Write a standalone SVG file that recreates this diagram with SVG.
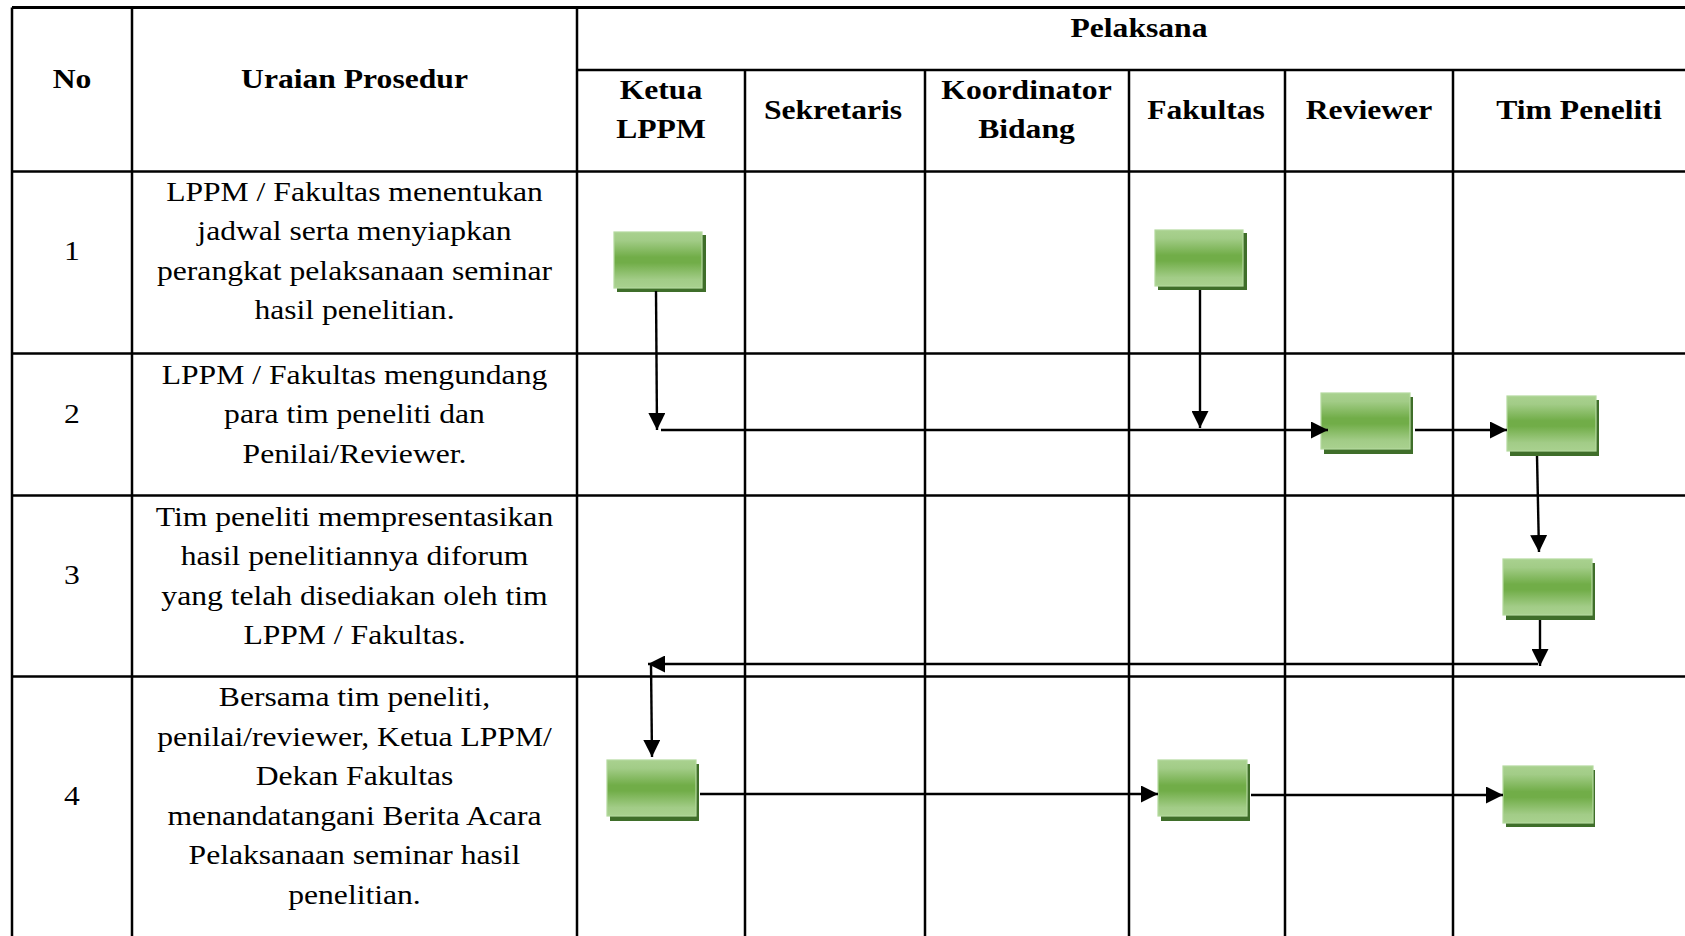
<svg xmlns="http://www.w3.org/2000/svg" width="1685" height="936" viewBox="0 0 1685 936">
<style>
.grid{stroke:#000;stroke-width:2.5;fill:none}
.outer{stroke:#000;stroke-width:3;fill:none}
.txt{font-family:'Liberation Serif','Times New Roman',serif;font-size:27.5px;fill:#000;text-anchor:middle}
.hd{font-weight:bold}
.shadow{fill:#3f6e2a}
.box{fill:url(#grn);stroke:#b4d99e;stroke-width:1.2}
.conn{stroke:#000;stroke-width:2.4;fill:none;marker-end:url(#ah)}
</style>
<defs>
<linearGradient id="grn" x1="0" y1="0" x2="0" y2="1">
<stop offset="0" stop-color="#a9d18f"/>
<stop offset="0.15" stop-color="#a2cc87"/>
<stop offset="0.45" stop-color="#71ad48"/>
<stop offset="0.55" stop-color="#71ad48"/>
<stop offset="0.85" stop-color="#a2cc87"/>
<stop offset="1" stop-color="#a9d18f"/>
</linearGradient>
<marker id="ah" viewBox="0 0 10 10" refX="10" refY="5" markerWidth="17" markerHeight="17" markerUnits="userSpaceOnUse" orient="auto">
<path d="M0,0 L10,5 L0,10 z" fill="#000"/>
</marker>
</defs>
<rect x="0" y="0" width="1685" height="936" fill="#fff"/>
<g id="table">
<path class="outer" d="M12,7.5 H1685"/>
<path class="grid" d="M12,7.5 V936 M132,7.5 V936 M577,7.5 V936"/>
<path class="grid" d="M745,70 V936 M925,70 V936 M1129,70 V936 M1285,70 V936 M1453,70 V936"/>
<path class="grid" d="M577,70 H1685 M12,171.5 H1685 M12,353.5 H1685 M12,495.5 H1685 M12,676.5 H1685"/>
</g>
<g id="header" transform="scale(1.15 1)">
<text class="txt hd" x="990.43" y="37.5">Pelaksana</text>
<text class="txt hd" x="62.61" y="88">No</text>
<text class="txt hd" x="308.26" y="88">Uraian Prosedur</text>
<text class="txt hd" x="574.78" y="99">Ketua</text>
<text class="txt hd" x="574.78" y="138.5">LPPM</text>
<text class="txt hd" x="724.35" y="119">Sekretaris</text>
<text class="txt hd" x="892.61" y="99">Koordinator</text>
<text class="txt hd" x="892.61" y="138.5">Bidang</text>
<text class="txt hd" x="1048.7" y="119">Fakultas</text>
<text class="txt hd" x="1190.43" y="119">Reviewer</text>
<text class="txt hd" x="1373.04" y="119">Tim Peneliti</text>
</g>
<g id="rows" transform="scale(1.15 1)">
<text class="txt" x="62.61" y="260">1</text>
<text class="txt" x="308.26" y="201">LPPM / Fakultas menentukan</text>
<text class="txt" x="308.26" y="240.5">jadwal serta menyiapkan</text>
<text class="txt" x="308.26" y="280">perangkat pelaksanaan seminar</text>
<text class="txt" x="308.26" y="319.5">hasil penelitian.</text>
<text class="txt" x="62.61" y="423">2</text>
<text class="txt" x="308.26" y="384.5">LPPM / Fakultas mengundang</text>
<text class="txt" x="308.26" y="423.5">para tim peneliti dan</text>
<text class="txt" x="308.26" y="463">Penilai/Reviewer.</text>
<text class="txt" x="62.61" y="584.5">3</text>
<text class="txt" x="308.26" y="526">Tim peneliti mempresentasikan</text>
<text class="txt" x="308.26" y="565.5">hasil penelitiannya diforum</text>
<text class="txt" x="308.26" y="605">yang telah disediakan oleh tim</text>
<text class="txt" x="308.26" y="644.5">LPPM / Fakultas.</text>
<text class="txt" x="62.61" y="805">4</text>
<text class="txt" x="308.26" y="706.5">Bersama tim peneliti,</text>
<text class="txt" x="308.26" y="746">penilai/reviewer, Ketua LPPM/</text>
<text class="txt" x="308.26" y="785.5">Dekan Fakultas</text>
<text class="txt" x="308.26" y="825">menandatangani Berita Acara</text>
<text class="txt" x="308.26" y="864.5">Pelaksanaan seminar hasil</text>
<text class="txt" x="308.26" y="904">penelitian.</text>
</g>
<g id="nodes">
<g id="n1-ketua"><rect class="shadow" x="617" y="235" width="89" height="57"/><rect class="box" x="614" y="232" width="88" height="56"/></g>
<g id="n1-fakultas"><rect class="shadow" x="1158" y="233" width="89" height="57"/><rect class="box" x="1155" y="230" width="88" height="56"/></g>
<g id="n2-reviewer"><rect class="shadow" x="1324" y="397" width="89" height="57"/><rect class="box" x="1321" y="393" width="89" height="56"/></g>
<g id="n2-tim"><rect class="shadow" x="1510" y="400" width="89" height="56"/><rect class="box" x="1507" y="396" width="89" height="55"/></g>
<g id="n3-tim"><rect class="shadow" x="1506" y="563" width="89" height="57"/><rect class="box" x="1503" y="559" width="89" height="56"/></g>
<g id="n4-ketua"><rect class="shadow" x="610" y="764" width="89" height="57"/><rect class="box" x="607" y="760" width="89" height="56"/></g>
<g id="n4-fakultas"><rect class="shadow" x="1161" y="764" width="89" height="57"/><rect class="box" x="1158" y="760" width="89" height="56"/></g>
<g id="n4-tim"><rect class="shadow" x="1506" y="770" width="89" height="57"/><rect class="box" x="1503" y="766" width="90" height="57"/></g>
</g>
<g id="connectors">
<path class="conn" d="M656,291 L657,430"/>
<path class="conn" d="M661,430 L1328,430"/>
<path class="conn" d="M1200,290 L1200,428"/>
<path class="conn" d="M1415,430 L1507,430"/>
<path class="conn" d="M1537,456 L1539,552"/>
<path class="conn" d="M1540,620 L1540,666"/>
<path class="conn" d="M1538,664 L648,664"/>
<path class="conn" d="M651,664 L652,757"/>
<path class="conn" d="M700,794 L1158,794"/>
<path class="conn" d="M1251,795 L1503,795"/>
</g>
</svg>
